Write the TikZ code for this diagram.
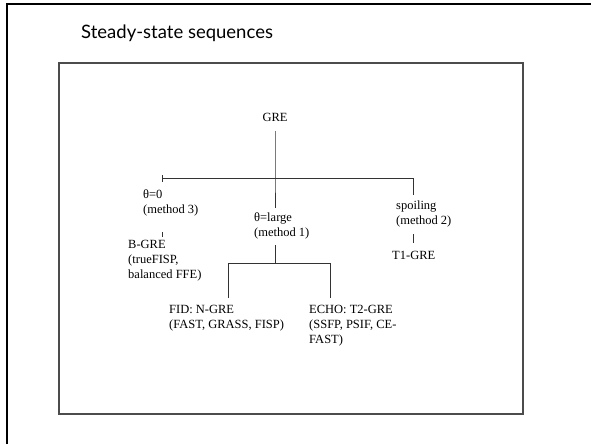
\documentclass[tikz,border=0pt]{standalone}
\usepackage{fontspec}
\setmainfont{Liberation Serif}
\newfontfamily\titlefont{Lato}
\begin{document}
\begin{tikzpicture}[x=1pt,y=-1pt,
  lbl/.style={anchor=north west,align=left,inner sep=0pt,font=\fontsize{12.5}{15}\selectfont},
  treeline/.style={draw=black!80,line width=0.9pt}]
\useasboundingbox (0,0) rectangle (591,444);
% outer frame (top and left edges)
\draw[line width=2pt] (7,444) -- (7,4) -- (591,4);
% title
\node[anchor=base west,inner sep=0pt,font=\titlefont\fontsize{18.5}{20}\selectfont] (title) at (81,39) {Steady-state sequences};
% inner panel
\draw[draw=black!70,line width=1.2pt] (59,63) rectangle (523,414);
% nodes
\node[anchor=center,inner sep=0pt,font=\fontsize{12.5}{15}\selectfont] (gre) at (275,117) {GRE};
\node[lbl] (th0) at (143,190) {θ=0\\(method 3)};
\node[lbl] (bgre) at (128,240) {B-GRE\\(trueFISP,\\balanced FFE)};
\node[lbl] (large) at (254,213) {θ=large\\(method 1)};
\node[lbl] (spoil) at (396,201) {spoiling\\(method 2)};
\node[lbl] (t1) at (392,251) {T1-GRE};
\node[lbl] (fid) at (169,305) {FID: N-GRE\\(FAST, GRASS, FISP)};
\node[lbl] (echo) at (309,305) {ECHO: T2-GRE\\(SSFP, PSIF, CE-\\FAST)};
% junction coordinates
\coordinate (g0) at (275,131);
\coordinate (j1) at (275,178);
\coordinate (bl) at (162,178);
\coordinate (br) at (413,178);
\coordinate (blt) at (162,175);
\coordinate (blb) at (162,182);
\coordinate (brb) at (413,195);
\coordinate (lt) at (275,208);
\coordinate (lb) at (275,245);
\coordinate (j2) at (275,263);
\coordinate (fl) at (228,263);
\coordinate (fr) at (330,263);
\coordinate (flb) at (228,298);
\coordinate (frb) at (330,298);
\coordinate (t0a) at (162,232);
\coordinate (t0b) at (162,237);
\coordinate (t2a) at (413,234);
\coordinate (t2b) at (413,243);
% connectors
\draw[treeline] (g0) -- (j1) -- (lt);
\draw[treeline] (bl) -- (br) -- (brb);
\draw[treeline] (blt) -- (blb);
\draw[treeline] (lb) -- (j2);
\draw[treeline] (flb) -- (fl) -- (fr) -- (frb);
\draw[treeline] (t0a) -- (t0b);
\draw[treeline] (t2a) -- (t2b);
\end{tikzpicture}
\end{document}
